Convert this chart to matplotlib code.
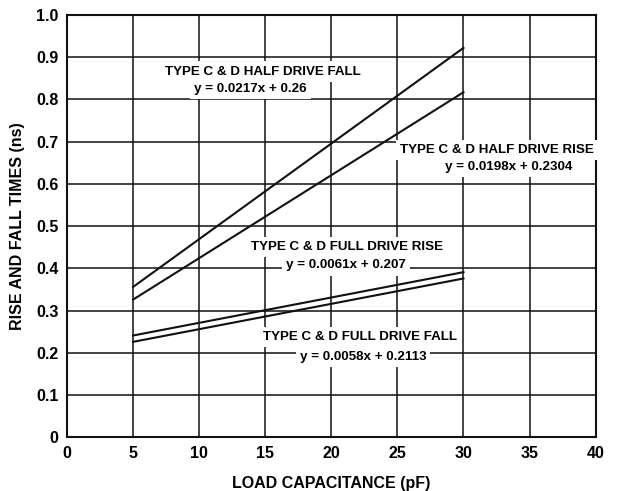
import matplotlib
matplotlib.use('Agg')
import matplotlib.pyplot as plt

# load capacitance (pF) at the two measured ends
load_pf = [5, 30]

# rise / fall times (ns)
half_fall = [0.356, 0.922]
half_rise = [0.326, 0.817]
full_rise = [0.241, 0.391]
full_fall = [0.226, 0.376]

x_ticks = [0, 5, 10, 15, 20, 25, 30, 35, 40]
y_ticks = [0, 0.1, 0.2, 0.3, 0.4, 0.5, 0.6, 0.7, 0.8, 0.9, 1.0]
y_tick_labels = ['0', '0.1', '0.2', '0.3', '0.4', '0.5', '0.6', '0.7', '0.8', '0.9', '1.0']

plt.rcParams['font.family'] = ['Liberation Sans', 'DejaVu Sans']
plt.rcParams['font.weight'] = 'bold'

fig = plt.figure(figsize=(6.18, 4.91), dpi=100)
ax = fig.add_axes([0.1084, 0.1094, 0.8554, 0.8601])

for series in (half_fall, half_rise, full_rise, full_fall):
    ax.plot(load_pf, series, color='#111111', lw=1.5, zorder=3)

ax.set_xlim(0, 40)
ax.set_ylim(0, 1.0)
ax.set_xticks(x_ticks)
ax.set_yticks(y_ticks)
ax.set_yticklabels(y_tick_labels)
ax.grid(True, color='#111111', lw=1.1, zorder=1)
ax.set_axisbelow(True)
ax.tick_params(length=0, labelsize=11.5, pad=6)
for lab in ax.get_xticklabels() + ax.get_yticklabels():
    lab.set_fontweight('bold')
for sp in ax.spines.values():
    sp.set_linewidth(1.5)
    sp.set_color('#111111')

ax.set_xlabel('LOAD CAPACITANCE (pF)', fontsize=11.5, fontweight='bold')
ax.set_ylabel('RISE AND FALL TIMES (ns)', fontsize=11.5, fontweight='bold')
ax.xaxis.set_label_coords(0.5, -0.092)
ax.yaxis.set_label_coords(-0.08, 0.5)

box = dict(facecolor='white', edgecolor='none', pad=3)
kw = dict(fontsize=9.6, fontweight='bold', ha='center', va='center', bbox=box, zorder=5)

ax.text(14.8, 0.866, 'TYPE C & D HALF DRIVE FALL', **kw)
ax.text(13.9, 0.825, 'y = 0.0217x + 0.26', **kw)

ax.text(32.5, 0.681, 'TYPE C & D HALF DRIVE RISE', **kw)
ax.text(33.4, 0.641, 'y = 0.0198x + 0.2304', **kw)

ax.text(21.2, 0.450, 'TYPE C & D FULL DRIVE RISE', **kw)
ax.text(21.1, 0.407, 'y = 0.0061x + 0.207', **kw)

ax.text(22.2, 0.238, 'TYPE C & D FULL DRIVE FALL', **kw)
ax.text(22.4, 0.191, 'y = 0.0058x + 0.2113', **kw)

fig.savefig('out.png', dpi=100)
